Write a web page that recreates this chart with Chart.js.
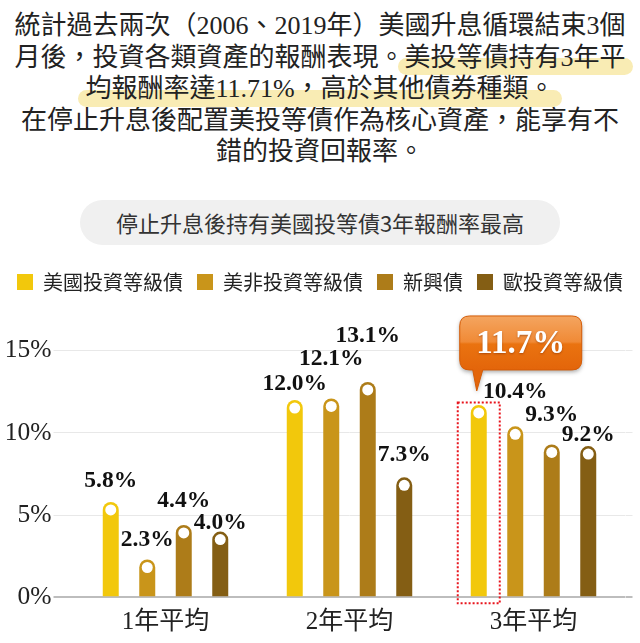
<!DOCTYPE html>
<html>
<head>
<meta charset="utf-8">
<script src="https://cdn.jsdelivr.net/npm/chart.js@4.4.0/dist/chart.umd.min.js"></script>
<style>
  html, body { margin: 0; padding: 0; background: #fff; }
  body { width: 640px; height: 643px; position: relative; overflow: hidden; }
  .intro {
    position: absolute; left: 0; top: 10px; width: 640px;
    text-align: center; white-space: nowrap; color: #222;
    font-family: "Liberation Serif", "Noto Sans CJK TC", serif;
    font-size: 26px; line-height: 31.5px;
  }
  .hl { position: relative; display: inline-block; z-index: 0; }
  .hl::before {
    content: ""; position: absolute; z-index: -1;
    left: -7px; right: -7px; top: calc(50% + 1px); height: 17px;
    border-radius: 9px; background: #f9ecb4;
  }
  .pill {
    position: absolute; left: 80px; top: 200px; width: 480px; height: 45px;
    border-radius: 23px; background: #f0f0f0; color: #333;
    font-family: "Noto Sans CJK TC", sans-serif; font-size: 22px;
    line-height: 45px; text-align: center;
  }
  .chart-box { position: absolute; left: 0; top: 250px; width: 640px; height: 393px; }
</style>
</head>
<body>
<div class="intro">
  <div>統計過去兩次（2006、2019年）美國升息循環結束3個</div>
  <div>月後，投資各類資產的報酬表現。<span class="hl">美投等債持有3年平</span></div>
  <div><span class="hl">均報酬率達11.71%，高於其他債券種類。</span></div>
  <div>在停止升息後配置美投等債作為核心資產，能享有不</div>
  <div>錯的投資回報率。</div>
</div>
<div class="pill">停止升息後持有美國投等債3年報酬率最高</div>
<div class="chart-box"><canvas id="returns-chart"></canvas></div>

<script>
// data
const categories = ['1年平均', '2年平均', '3年平均'];
const seriesNames = ['美國投資等級債', '美非投資等級債', '新興債', '歐投資等級債'];
const usIG = [5.8, 12.0, 11.7];
const usHY = [2.3, 12.1, 10.4];
const emBonds = [4.4, 13.1, 9.3];
const euIG = [4.0, 7.3, 9.2];
const yTicks = [0, 5, 10, 15];

const colors = ['#f2c80c', '#c9951a', '#ad7c19', '#845e14'];
// which bar gets the orange bubble
const calloutBar = { dataset: 0, index: 2 };
// how far each value label sits above its bar (per category, per series)
const labelLift = [[21, 20, 24, 9], [16, 39, 46, 22], [0, 34, 29, 11]];

const seriesValues = [usIG, usHY, emBonds, euIG];
let datasets = [];
for (let i = 0; i < seriesNames.length; i++) {
    datasets.push({
        label: seriesNames[i],
        data: seriesValues[i],
        backgroundColor: colors[i],
        borderWidth: 0,
        borderRadius: { topLeft: 8, topRight: 8 },
        borderSkipped: 'start',
        categoryPercentage: 0.7935,
        barPercentage: 0.438
    });
}

const gridColor = (c) => (c.tick && c.tick.value === 0) ? '#bdbdbd' : '#e8e8e8';
const gridWidth = (c) => (c.tick && c.tick.value === 0) ? 2 : 1;
const setTicks = (scale) => { scale.ticks = yTicks.map(v => ({ value: v })); };

// push the plot down below the legend
const legendSpacer = {
    id: 'legendSpacer',
    beforeInit(chart) {
        const fit = chart.legend.fit;
        chart.legend.fit = function () {
            fit.call(this);
            this.height = 92.7;
        };
    }
};

function roundedBubble(ctx, l, t, r, b, rad, tailL, tailR, tipX, tipY) {
    ctx.beginPath();
    ctx.moveTo(l + rad, t);
    ctx.lineTo(r - rad, t);
    ctx.quadraticCurveTo(r, t, r, t + rad);
    ctx.lineTo(r, b - rad);
    ctx.quadraticCurveTo(r, b, r - rad, b);
    ctx.lineTo(tailR, b);
    ctx.lineTo(tipX, tipY);
    ctx.lineTo(tailL, b);
    ctx.lineTo(l + rad, b);
    ctx.quadraticCurveTo(l, b, l, b - rad);
    ctx.lineTo(l, t + rad);
    ctx.quadraticCurveTo(l, t, l + rad, t);
    ctx.closePath();
}

const barMarks = {
    id: 'barMarks',
    afterDatasetsDraw(chart) {
        const ctx = chart.ctx;
        const base = chart.scales.y.getPixelForValue(0);
        ctx.save();
        chart.data.datasets.forEach((ds, d) => {
            chart.getDatasetMeta(d).data.forEach((bar, i) => {
                ctx.beginPath();
                ctx.arc(bar.x, bar.y + 8, 5.5, 0, Math.PI * 2);
                ctx.fillStyle = '#fff';
                ctx.fill();
                if (d === calloutBar.dataset && i === calloutBar.index) return;
                ctx.fillStyle = '#111';
                ctx.font = 'bold 23.5px "Liberation Serif", serif';
                ctx.textAlign = 'center';
                ctx.textBaseline = 'middle';
                ctx.fillText(ds.data[i].toFixed(1) + '%', bar.x, bar.y - labelLift[i][d]);
            });
        });

        const hot = chart.getDatasetMeta(calloutBar.dataset).data[calloutBar.index];
        const value = chart.data.datasets[calloutBar.dataset].data[calloutBar.index];

        // dotted frame round the bar
        ctx.strokeStyle = '#e8141c';
        ctx.lineWidth = 2;
        ctx.setLineDash([2, 2]);
        ctx.strokeRect(hot.x - 21, hot.y - 2.5, 42, base + 6 - (hot.y - 2.5));
        ctx.setLineDash([]);

        // orange bubble
        const l = hot.x - 19, r = hot.x + 103, t = hot.y - 89, b = hot.y - 35;
        ctx.save();
        ctx.shadowColor = 'rgba(0,0,0,0.35)';
        ctx.shadowBlur = 4;
        ctx.shadowOffsetY = 2;
        const g = ctx.createLinearGradient(0, t, 0, b);
        g.addColorStop(0, '#f4a560');
        g.addColorStop(0.48, '#f08a36');
        g.addColorStop(0.52, '#ea7310');
        g.addColorStop(1, '#e3650a');
        roundedBubble(ctx, l, t, r, b, 10, hot.x - 6, hot.x + 4, hot.x - 2, hot.y - 14);
        ctx.fillStyle = g;
        ctx.fill();
        ctx.restore();
        ctx.strokeStyle = '#d45b06';
        ctx.lineWidth = 1;
        ctx.stroke();

        ctx.save();
        ctx.shadowColor = 'rgba(120,40,0,0.5)';
        ctx.shadowBlur = 2;
        ctx.shadowOffsetY = 1;
        ctx.fillStyle = '#fff';
        ctx.font = 'bold 33px "Liberation Serif", serif';
        ctx.textAlign = 'center';
        ctx.textBaseline = 'middle';
        ctx.fillText(value.toFixed(1) + '%', (l + r) / 2, hot.y - 60);
        ctx.restore();
        ctx.restore();
    }
};

new Chart(document.getElementById('returns-chart'), {
    type: 'bar',
    data: { labels: categories, datasets: datasets },
    options: {
        responsive: true,
        maintainAspectRatio: false,
        animation: false,
        events: [],
        layout: { padding: { top: 8, left: 0, right: 0, bottom: 0 } },
        plugins: {
            legend: {
                labels: {
                    color: '#222',
                    boxWidth: 16,
                    boxHeight: 16,
                    padding: 14,
                    font: { family: '"Noto Sans CJK TC", sans-serif', size: 20 }
                }
            },
            tooltip: { enabled: false }
        },
        scales: {
            x: {
                grid: { display: false, drawTicks: false },
                border: { display: false },
                ticks: {
                    color: '#222',
                    padding: 10,
                    font: { family: '"Liberation Serif", "Noto Sans CJK TC", serif', size: 25 }
                },
                afterFit: (s) => { s.height = 45.7; }
            },
            y: {
                min: 0,
                max: 15,
                afterBuildTicks: setTicks,
                grid: { color: gridColor, lineWidth: gridWidth, tickLength: 20 },
                border: { display: false },
                ticks: {
                    color: '#222',
                    padding: 2,
                    font: { family: '"Liberation Serif", serif', size: 25.5 },
                    callback: (v) => v + '%'
                },
                afterFit: (s) => { s.width = 73.5; }
            },
            y2: {
                position: 'right',
                min: 0,
                max: 15,
                afterBuildTicks: setTicks,
                grid: { drawOnChartArea: false, color: gridColor, lineWidth: gridWidth, tickLength: 7 },
                border: { display: false },
                ticks: { display: false },
                afterFit: (s) => { s.width = 14.5; }
            }
        }
    },
    plugins: [legendSpacer, barMarks]
});
</script>
</body>
</html>
